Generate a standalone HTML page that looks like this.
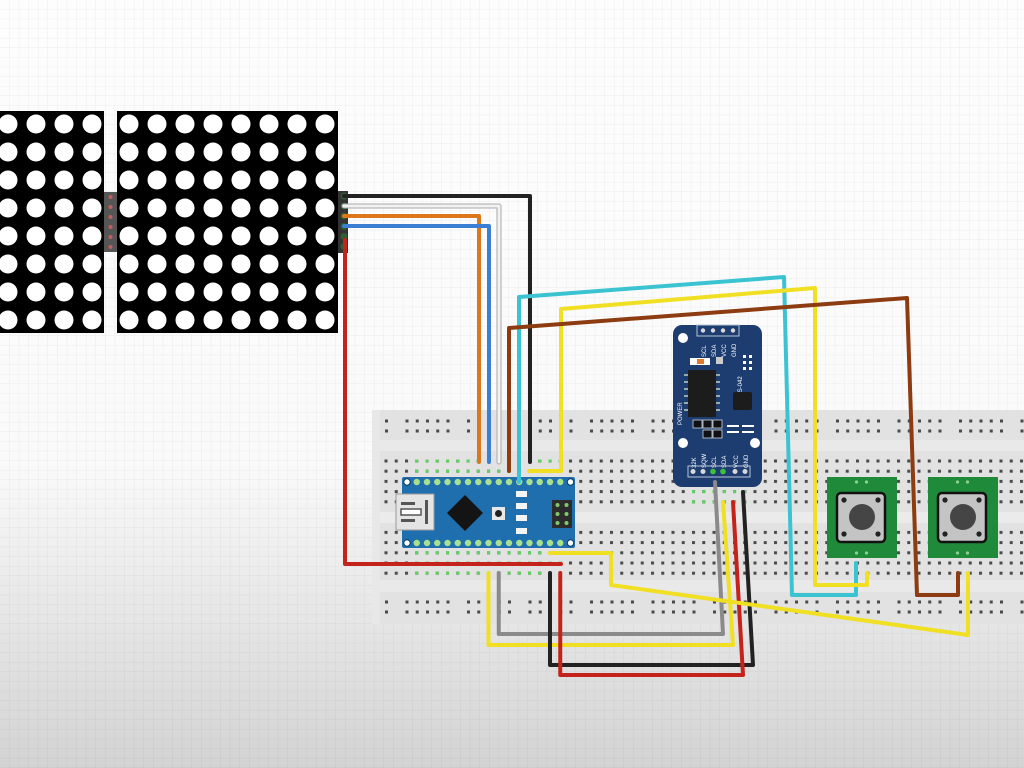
<!DOCTYPE html>
<html><head><meta charset="utf-8"><style>
html,body{margin:0;padding:0;width:1024px;height:768px;overflow:hidden;background:#fff}
svg{display:block}
</style></head><body>
<svg width="1024" height="768" viewBox="0 0 1024 768" xmlns="http://www.w3.org/2000/svg" font-family="Liberation Sans, sans-serif">
<defs>
<linearGradient id="bg" x1="0" y1="0" x2="0" y2="1">
<stop offset="0" stop-color="#fdfdfd"/><stop offset="0.6" stop-color="#fafafa"/><stop offset="1" stop-color="#d3d3d3"/>
</linearGradient>
<pattern id="grid" patternUnits="userSpaceOnUse" width="9.6" height="9.6">
<path d="M9.6 0V9.6H0" fill="none" stroke="rgba(0,0,0,0.06)" stroke-width="1"/>
</pattern>
<pattern id="mtxA" patternUnits="userSpaceOnUse" x="115" y="110" width="28" height="28">
<circle cx="14" cy="14" r="9.5" fill="#fff"/>
</pattern>
<pattern id="mtxB" patternUnits="userSpaceOnUse" x="-6" y="110" width="28" height="28">
<circle cx="14" cy="14" r="9.5" fill="#fff"/>
</pattern>
<pattern id="holes" patternUnits="userSpaceOnUse" x="384.5" y="459.5" width="10.25" height="10.2">
<rect x="0" y="0" width="3" height="3" fill="#4a4a4a"/>
</pattern>
<pattern id="holesG" patternUnits="userSpaceOnUse" x="384.5" y="459.5" width="10.25" height="10.2">
<rect x="0" y="0" width="3" height="3" fill="#5fd35f"/>
</pattern>
<pattern id="rail" patternUnits="userSpaceOnUse" x="405.5" y="419.5" width="61.5" height="10">
<rect x="0" y="0" width="3" height="3" fill="#4a4a4a"/>
<rect x="10.25" y="0" width="3" height="3" fill="#4a4a4a"/>
<rect x="20.5" y="0" width="3" height="3" fill="#4a4a4a"/>
<rect x="30.75" y="0" width="3" height="3" fill="#4a4a4a"/>
<rect x="41" y="0" width="3" height="3" fill="#4a4a4a"/>
</pattern>
<pattern id="rail2" patternUnits="userSpaceOnUse" x="405.5" y="600.5" width="61.5" height="10">
<rect x="0" y="0" width="3" height="3" fill="#4a4a4a"/>
<rect x="10.25" y="0" width="3" height="3" fill="#4a4a4a"/>
<rect x="20.5" y="0" width="3" height="3" fill="#4a4a4a"/>
<rect x="30.75" y="0" width="3" height="3" fill="#4a4a4a"/>
<rect x="41" y="0" width="3" height="3" fill="#4a4a4a"/>
</pattern>
<g id="btn">
<rect x="0" y="0" width="70" height="81" fill="#1f8a3a"/>
<rect x="10" y="16" width="48" height="49" rx="4" fill="#c4c4c4" stroke="#111" stroke-width="2.5"/>
<circle cx="35" cy="40" r="13" fill="#454545"/>
<circle cx="17" cy="23" r="2.6" fill="#222"/>
<circle cx="51" cy="23" r="2.6" fill="#222"/>
<circle cx="17" cy="57" r="2.6" fill="#222"/>
<circle cx="51" cy="57" r="2.6" fill="#222"/>
<circle cx="29.5" cy="5" r="1.6" fill="#8fd08f"/>
<circle cx="39.5" cy="5" r="1.6" fill="#8fd08f"/>
<circle cx="29.5" cy="76" r="1.6" fill="#8fd08f"/>
<circle cx="39.5" cy="76" r="1.6" fill="#8fd08f"/>
</g>
</defs>

<rect width="1024" height="768" fill="url(#bg)"/>
<rect width="1024" height="768" fill="url(#grid)"/>

<!-- LED matrices -->
<rect x="0" y="111" width="104" height="222" fill="#000"/>
<rect x="0" y="111" width="104" height="222" fill="url(#mtxB)"/>
<rect x="117" y="111" width="221" height="222" fill="#000"/>
<rect x="117" y="111" width="221" height="222" fill="url(#mtxA)"/>
<rect x="104" y="192" width="13" height="60" fill="#555"/>
<g fill="#c85a5a">
<circle cx="110.5" cy="197" r="2"/><circle cx="110.5" cy="207" r="2"/><circle cx="110.5" cy="217" r="2"/>
<circle cx="110.5" cy="227" r="2"/><circle cx="110.5" cy="237" r="2"/><circle cx="110.5" cy="247" r="2"/>
</g>
<rect x="338" y="191" width="10" height="62" fill="#333"/>
<g fill="#2f5e30">
<circle cx="344" cy="196" r="3.5"/><circle cx="344" cy="206" r="3.5"/><circle cx="344" cy="216" r="3.5"/>
<circle cx="344" cy="226.5" r="3.5"/><circle cx="344" cy="236.5" r="3.5"/><circle cx="344" cy="246.5" r="3.5"/>
</g>

<!-- Breadboard -->
<rect x="372" y="410" width="652" height="214" fill="#e2e2e2"/>
<rect x="372" y="440" width="652" height="11" fill="#e9e9e9"/>
<rect x="372" y="512" width="652" height="11" fill="#ebebeb"/>
<rect x="372" y="580" width="652" height="12" fill="#e9e9e9"/>
<rect x="372" y="410" width="8" height="214" fill="#e8e8e8"/>
<rect x="380" y="419" width="644" height="16" fill="url(#rail)"/>
<rect x="380" y="600" width="644" height="16" fill="url(#rail2)"/>
<rect x="382" y="459" width="642" height="46" fill="url(#holes)"/>
<rect x="382" y="530" width="642" height="46" fill="url(#holes)"/>
<!-- green connected holes -->
<rect x="413" y="459" width="150" height="16" fill="url(#holesG)"/>
<rect x="413" y="550" width="150" height="26" fill="url(#holesG)"/>
<rect x="690" y="490" width="60" height="16" fill="url(#holesG)"/>

<!-- Arduino Nano -->
<rect x="402" y="477" width="173" height="71" rx="2" fill="#1f6fae"/>
<g fill="#fff" stroke="#0d3b60" stroke-width="1">
<circle cx="407" cy="482" r="3.2"/><circle cx="570.5" cy="482" r="3.2"/>
<circle cx="407" cy="543" r="3.2"/><circle cx="570.5" cy="543" r="3.2"/>
</g>
<g fill="#a8e08c">
<circle cx="416.75" cy="482" r="3.2"/><circle cx="427" cy="482" r="3.2"/><circle cx="437.25" cy="482" r="3.2"/><circle cx="447.5" cy="482" r="3.2"/><circle cx="457.75" cy="482" r="3.2"/><circle cx="468" cy="482" r="3.2"/><circle cx="478.25" cy="482" r="3.2"/><circle cx="488.5" cy="482" r="3.2"/><circle cx="498.75" cy="482" r="3.2"/><circle cx="509" cy="482" r="3.2"/><circle cx="519.25" cy="482" r="3.2"/><circle cx="529.5" cy="482" r="3.2"/><circle cx="539.75" cy="482" r="3.2"/><circle cx="550" cy="482" r="3.2"/><circle cx="560.25" cy="482" r="3.2"/>
<circle cx="416.75" cy="543" r="3.2"/><circle cx="427" cy="543" r="3.2"/><circle cx="437.25" cy="543" r="3.2"/><circle cx="447.5" cy="543" r="3.2"/><circle cx="457.75" cy="543" r="3.2"/><circle cx="468" cy="543" r="3.2"/><circle cx="478.25" cy="543" r="3.2"/><circle cx="488.5" cy="543" r="3.2"/><circle cx="498.75" cy="543" r="3.2"/><circle cx="509" cy="543" r="3.2"/><circle cx="519.25" cy="543" r="3.2"/><circle cx="529.5" cy="543" r="3.2"/><circle cx="539.75" cy="543" r="3.2"/><circle cx="550" cy="543" r="3.2"/><circle cx="560.25" cy="543" r="3.2"/>
</g>
<rect x="396" y="494" width="38" height="36" fill="#e4e4e4" stroke="#9a9a9a" stroke-width="1"/>
<rect x="401" y="502" width="14" height="3" fill="#555"/>
<rect x="401" y="509" width="20" height="6" fill="#fff" stroke="#555" stroke-width="1.5"/>
<rect x="401" y="519" width="14" height="3" fill="#555"/>
<rect x="425" y="500" width="3" height="24" fill="#555"/>
<polygon points="465,495 483,513 465,531 447,513" fill="#141414"/>
<rect x="492" y="507" width="13" height="13" fill="#e8e8e8"/>
<circle cx="498.5" cy="513.5" r="3.5" fill="#222"/>
<g fill="#f4f4f4">
<rect x="516" y="491" width="11" height="6"/><rect x="516" y="503" width="11" height="6"/>
<rect x="516" y="515" width="11" height="6"/><rect x="516" y="528" width="11" height="6"/>
</g>
<rect x="552" y="500" width="20" height="28" fill="#2c2c2c"/>
<g fill="#7fc96a">
<circle cx="557.5" cy="505" r="2"/><circle cx="566.5" cy="505" r="2"/>
<circle cx="557.5" cy="514" r="2"/><circle cx="566.5" cy="514" r="2"/>
<circle cx="557.5" cy="523" r="2"/><circle cx="566.5" cy="523" r="2"/>
</g>

<!-- RTC module -->
<rect x="673" y="325" width="89" height="162" rx="9" fill="#1d3c70"/>
<rect x="697" y="325" width="42" height="11" fill="none" stroke="#b8c4d8" stroke-width="1"/>
<g fill="#d8d8d8"><circle cx="703" cy="330.5" r="2.2"/><circle cx="713" cy="330.5" r="2.2"/><circle cx="723" cy="330.5" r="2.2"/><circle cx="733" cy="330.5" r="2.2"/></g>
<g fill="#fff"><circle cx="683" cy="338" r="5"/><circle cx="683" cy="443" r="5"/><circle cx="755" cy="443" r="5"/></g>
<g font-size="6" fill="#fff">
<text transform="translate(706,357) rotate(-90)">SCL</text>
<text transform="translate(716,357) rotate(-90)">SDA</text>
<text transform="translate(726,357) rotate(-90)">VCC</text>
<text transform="translate(736,357) rotate(-90)">GND</text>
<text transform="translate(742,396) rotate(-90)">ZS-042</text>
<text transform="translate(682,425) rotate(-90)">POWER</text>
<text transform="translate(696,468) rotate(-90)">32K</text>
<text transform="translate(706,468) rotate(-90)">SQW</text>
<text transform="translate(716,468) rotate(-90)">SCL</text>
<text transform="translate(726,468) rotate(-90)">SDA</text>
<text transform="translate(738,468) rotate(-90)">VCC</text>
<text transform="translate(748,468) rotate(-90)">GND</text>
</g>
<rect x="690" y="358" width="20" height="7" fill="#fff"/><rect x="697" y="359" width="7" height="5" fill="#e07a2a"/>
<rect x="716" y="357" width="7" height="7" fill="#ccc"/>
<g fill="#fff"><rect x="743" y="355" width="3" height="3"/><rect x="749" y="355" width="3" height="3"/><rect x="743" y="361" width="3" height="3"/><rect x="749" y="361" width="3" height="3"/><rect x="743" y="367" width="3" height="3"/><rect x="749" y="367" width="3" height="3"/></g>
<rect x="688" y="370" width="28" height="47" fill="#1c1c1c"/>
<g fill="#9aa"><rect x="684" y="374" width="4" height="2"/><rect x="684" y="381" width="4" height="2"/><rect x="684" y="388" width="4" height="2"/><rect x="684" y="395" width="4" height="2"/><rect x="684" y="402" width="4" height="2"/><rect x="684" y="409" width="4" height="2"/>
<rect x="716" y="374" width="4" height="2"/><rect x="716" y="381" width="4" height="2"/><rect x="716" y="388" width="4" height="2"/><rect x="716" y="395" width="4" height="2"/><rect x="716" y="402" width="4" height="2"/><rect x="716" y="409" width="4" height="2"/></g>
<rect x="733" y="392" width="19" height="18" rx="2" fill="#1c1c1c"/>
<g fill="#111" stroke="#cfd6e0" stroke-width="0.8"><rect x="693" y="420" width="9" height="8"/><rect x="703" y="420" width="9" height="8"/><rect x="713" y="420" width="9" height="8"/><rect x="703" y="430" width="9" height="8"/><rect x="713" y="430" width="9" height="8"/></g>
<g fill="#fff"><rect x="727" y="425" width="12" height="2"/><rect x="727" y="431" width="12" height="2"/><rect x="742" y="425" width="12" height="2"/><rect x="742" y="431" width="12" height="2"/></g>
<rect x="688" y="466" width="62" height="11" fill="none" stroke="#b8c4d8" stroke-width="1"/>
<g fill="#d8d8d8"><circle cx="693" cy="471.5" r="2.5"/><circle cx="703" cy="471.5" r="2.5"/><circle cx="735" cy="471.5" r="2.5"/><circle cx="745" cy="471.5" r="2.5"/></g>
<g fill="#3ec23e"><circle cx="713" cy="471.5" r="2.8"/><circle cx="723" cy="471.5" r="2.8"/></g>

<!-- Buttons -->
<use href="#btn" x="827" y="477"/>
<use href="#btn" x="928" y="477"/>

<!-- Wires -->
<g fill="none" stroke-linejoin="round" stroke-linecap="round">
<path d="M344,196 L530,196 L530,462" stroke="#222" stroke-width="4"/>
<path d="M344,206 L499,206 L499,462" stroke="#aaa" stroke-width="5"/>
<path d="M344,206 L499,206 L499,462" stroke="#f2f2f2" stroke-width="3"/>
<path d="M344,216 L479,216 L479,462" stroke="#d9781c" stroke-width="4"/>
<path d="M344,226 L489,226 L489,462" stroke="#3b7fd4" stroke-width="4"/>
<path d="M345,240 L345,564 L561,564" stroke="#c3231b" stroke-width="4"/>
<path d="M519,482 L519,297 L784,277 L792,595 L856,595 L856,563" stroke="#3cc3d2" stroke-width="4"/>
<path d="M529,471 L561,471 L561,309 L815,288 L815,585 L867,585 L867,573" stroke="#f0df22" stroke-width="4"/>
<path d="M509,471 L509,328 L907,298 L917,595 L958,595 L958,573" stroke="#8d3b10" stroke-width="4"/>
<path d="M715,482 L723,634 L498.75,634 L498.75,573" stroke="#8a8a8a" stroke-width="4"/>
<path d="M723,502 L733,645 L488.5,645 L488.5,573" stroke="#f0df22" stroke-width="4"/>
<path d="M743,492 L753,665 L550,665 L550,573" stroke="#222" stroke-width="4"/>
<path d="M733,502 L743,675 L560.25,675 L560.25,573" stroke="#c3231b" stroke-width="4"/>
<path d="M550,553 L611,553 L611,585 L968,635 L968,573" stroke="#f0df22" stroke-width="4"/>
</g>
</svg>
</body></html>
